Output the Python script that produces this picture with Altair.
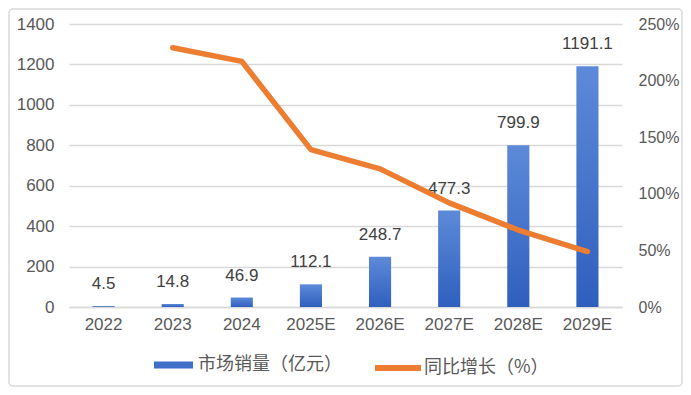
import altair as alt
import pandas as pd

years = ["2022", "2023", "2024", "2025E", "2026E", "2027E", "2028E", "2029E"]
sales = [4.5, 14.8, 46.9, 112.1, 248.7, 477.3, 799.9, 1191.1]
growth_years = ["2023", "2024", "2025E", "2026E", "2027E", "2028E", "2029E"]
growth = [2.29, 2.17, 1.39, 1.22, 0.92, 0.68, 0.49]
bar_name = "市场销量（亿元）"
line_name = "同比增长（%）"
left_ticks = [0, 200, 400, 600, 800, 1000, 1200, 1400]
right_ticks = [0, 0.5, 1.0, 1.5, 2.0, 2.5]

bars_df = pd.DataFrame({
    "year": years,
    "sales": sales,
    "label": [f"{v:.1f}" for v in sales],
    "series": [bar_name] * len(years),
})
line_df = pd.DataFrame({
    "year": growth_years,
    "growth": growth,
    "series": [line_name] * len(growth_years),
})

NUM_FONT = "Liberation Sans"
CJK_FONT = "Noto Sans CJK SC"
AX_COL = "#595959"
GRID = "#d9d9d9"

W, H = 553, 283

x_enc = alt.X(
    "year:N",
    sort=years,
    scale=alt.Scale(paddingInner=0.68, paddingOuter=0.34),
    axis=alt.Axis(
        title=None, labelAngle=0, ticks=False, domainColor=GRID, domainWidth=1.5,
        labelFont=NUM_FONT, labelFontSize=17, labelColor=AX_COL, labelPadding=9,
        grid=False,
    ),
)

y_left = alt.Y(
    "sales:Q",
    scale=alt.Scale(domain=[0, 1400]),
    axis=alt.Axis(
        title=None, values=left_ticks, format="d", grid=True, gridColor=GRID,
        gridWidth=1.5, domain=False, ticks=False, labelFont=NUM_FONT,
        labelFontSize=17, labelColor=AX_COL, labelPadding=15,
    ),
)

gradient = alt.LinearGradient(
    gradient="linear",
    stops=[
        alt.GradientStop(color="#5d8ad8", offset=0),
        alt.GradientStop(color="#2f5fbe", offset=1),
    ],
    x1=0, x2=0, y1=0, y2=1,
)

base_bars = alt.Chart(bars_df)

bars = base_bars.mark_bar(color=gradient).encode(x=x_enc, y=y_left)

legend_helper = base_bars.mark_bar(opacity=1).encode(
    x=x_enc,
    y=alt.value(H),
    y2=alt.value(H),
    color=alt.Color(
        "series:N",
        scale=alt.Scale(domain=[bar_name], range=["#3f6fc8"]),
        legend=alt.Legend(
            title=None, orient="none", legendX=85, legendY=321.5,
            symbolType="M-1,-0.18H1V0.18H-1Z", symbolSize=1521,
            symbolStrokeWidth=0, labelFont=CJK_FONT, labelFontSize=18,
            labelColor=AX_COL, labelOffset=5, padding=0,
        ),
    ),
)

labels = base_bars.mark_text(
    dy=-22, baseline="middle", font=NUM_FONT, fontSize=17, color="#404040"
).encode(
    x=x_enc,
    y=y_left,
    text="label:N",
)

border = alt.Chart(pd.DataFrame({"a": [0]})).mark_rect(
    fill=None, stroke=GRID, strokeWidth=1.5, cornerRadius=4
).encode(
    x=alt.value(-60), x2=alt.value(613), y=alt.value(-15), y2=alt.value(362)
)

left = alt.layer(bars, legend_helper, labels, border)

line = alt.Chart(line_df).mark_line(
    strokeWidth=5.5, strokeCap="round", strokeJoin="round"
).encode(
    x=x_enc,
    y=alt.Y(
        "growth:Q",
        scale=alt.Scale(domain=[0, 2.5]),
        axis=alt.Axis(
            title=None, orient="right", values=right_ticks, format=".0%",
            grid=False, domain=False, ticks=False, labelFont=NUM_FONT,
            labelFontSize=16, labelColor=AX_COL, labelPadding=16,
        ),
    ),
    stroke=alt.Stroke(
        "series:N",
        scale=alt.Scale(domain=[line_name], range=["#ed7d31"]),
        legend=alt.Legend(
            title=None, orient="none", legendX=303, legendY=318,
            symbolType="M-1,0H1", symbolSize=2116, symbolStrokeWidth=6,
            labelFont=CJK_FONT, labelFontSize=18, labelColor=AX_COL,
            labelOffset=0, padding=0,
        ),
    ),
)

chart = (
    alt.layer(left, line)
    .resolve_scale(y="independent", color="independent", stroke="independent")
    .properties(
        width=W,
        height=H,
        autosize=alt.AutoSizeParams(type="none"),
        padding={"left": 61, "top": 16, "right": 61, "bottom": 80},
        background="white",
    )
    .configure_view(stroke=None)
)

chart.save("out.html", embed_options={"renderer": "svg", "actions": False})
